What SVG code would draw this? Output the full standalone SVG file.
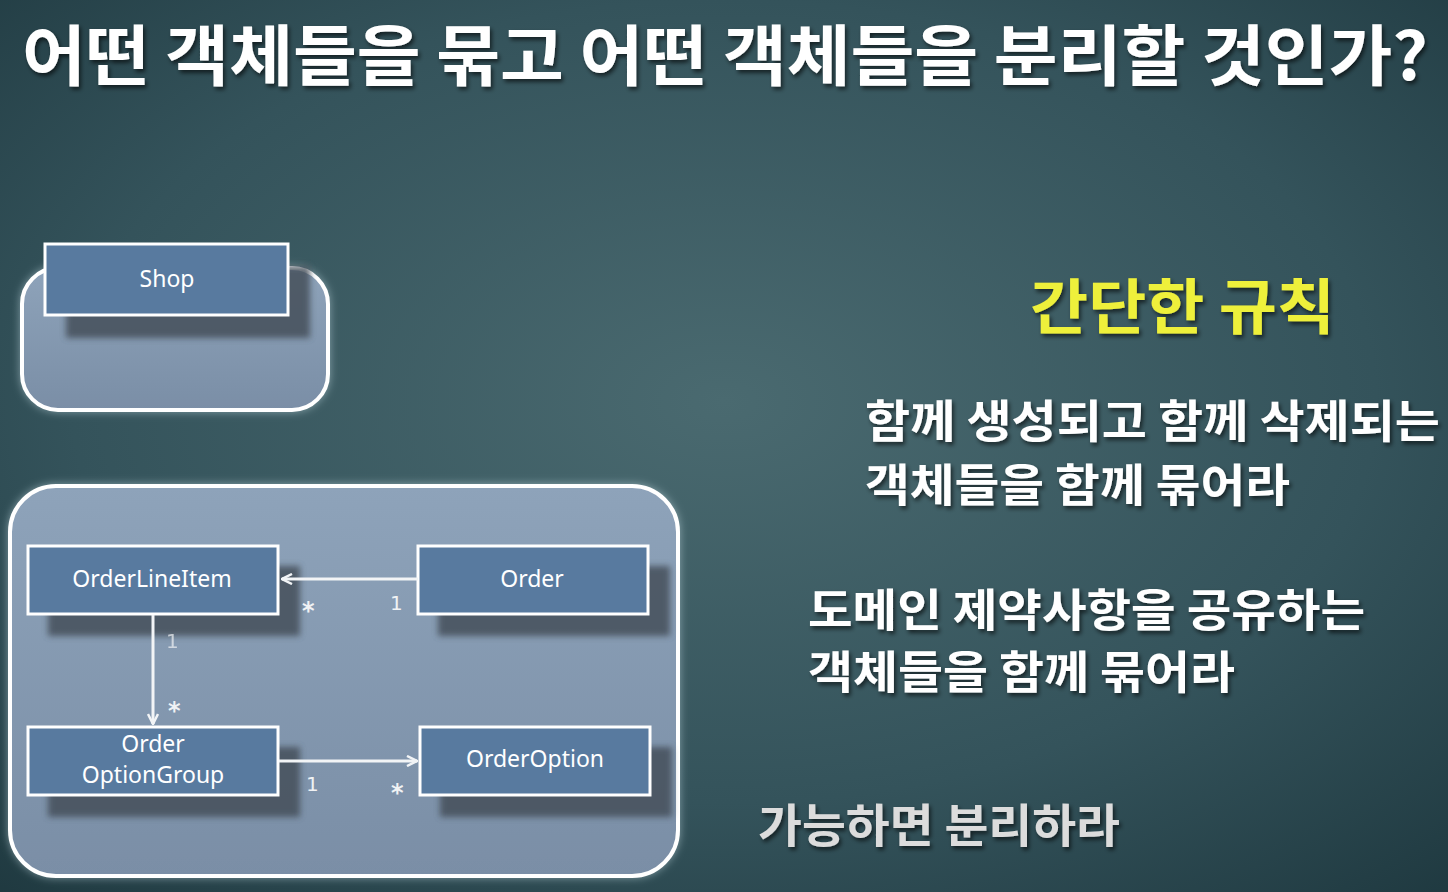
<svg xmlns="http://www.w3.org/2000/svg" width="1448" height="892" viewBox="0 0 1448 892">
<defs>
<radialGradient id="bg" cx="0.5" cy="0.45" r="0.75">
<stop offset="0" stop-color="#4a6a70"/>
<stop offset="0.6" stop-color="#34535b"/>
<stop offset="1" stop-color="#1f3940"/>
</radialGradient>
<linearGradient id="panel" x1="0" y1="0" x2="0" y2="1">
<stop offset="0" stop-color="#8ea3ba"/>
<stop offset="1" stop-color="#7a8ea6"/>
</linearGradient>
<filter id="glow" x="-10%" y="-10%" width="120%" height="120%">
<feGaussianBlur in="SourceAlpha" stdDeviation="4" result="b"/>
<feFlood flood-color="#cfe6ee" flood-opacity="0.5"/>
<feComposite in2="b" operator="in" result="g"/>
<feMerge><feMergeNode in="g"/><feMergeNode in="SourceGraphic"/></feMerge>
</filter>
<filter id="blur" x="-20%" y="-20%" width="140%" height="140%">
<feGaussianBlur stdDeviation="3"/>
</filter>
<filter id="tshadow" x="-5%" y="-20%" width="110%" height="140%">
<feDropShadow dx="2" dy="3" stdDeviation="2" flood-color="#000" flood-opacity="0.6"/>
</filter>
<marker id="arr" viewBox="0 0 12 12" refX="11" refY="6" markerWidth="12" markerHeight="12" markerUnits="userSpaceOnUse" orient="auto">
<path d="M1,1 L11,6 L1,11" fill="none" stroke="#f2f4f6" stroke-width="2.5"/>
</marker>
</defs>
<style>
.box{fill:#587a9f;stroke:#ffffff;stroke-width:3}
.shadow{fill:#454f5a;opacity:0.85}
.lbl{font-family:"Noto Sans","Noto Sans CJK KR",sans-serif;font-size:23px;fill:#ffffff;text-anchor:middle}
.mult{font-family:"DejaVu Sans",sans-serif;font-size:20px;fill:#f0f2f4}
.star{font-family:"DejaVu Sans",sans-serif;font-size:24px;font-weight:700;fill:#f0f2f4}
.conn{stroke:#f2f4f6;stroke-width:3;fill:none}
.kr{font-family:"Noto Sans CJK KR","Noto Sans",sans-serif;font-weight:700;fill:#ffffff}
.panel{stroke:#ffffff;stroke-width:4}
</style>
<rect width="1448" height="892" fill="url(#bg)"/>

<text class="kr" x="22" y="80" font-size="66" textLength="1406" lengthAdjust="spacingAndGlyphs" filter="url(#tshadow)">어떤 객체들을 묶고 어떤 객체들을 분리할 것인가?</text>

<g id="shop-aggregate">
<rect class="panel" x="22" y="268" width="306" height="142" rx="36" fill="url(#panel)" filter="url(#glow)"/>
</g>
<g id="shop">
<rect class="shadow" x="66" y="266" width="244" height="72" filter="url(#blur)"/>
<rect class="box" x="45" y="244" width="243" height="71"/>
<text class="lbl" x="167" y="287">Shop</text>
</g>

<g id="order-aggregate">
<rect class="panel" x="10" y="486" width="668" height="390" rx="46" fill="url(#panel)" filter="url(#glow)"/>
</g>
<g id="orderlineitem">
<rect class="shadow" x="48" y="566" width="252" height="70" filter="url(#blur)"/>
<rect class="box" x="28" y="546" width="250" height="68"/>
<text class="lbl" x="152" y="587">OrderLineItem</text>
</g>
<g id="order">
<rect class="shadow" x="438" y="566" width="232" height="70" filter="url(#blur)"/>
<rect class="box" x="418" y="546" width="230" height="68"/>
<text class="lbl" x="532" y="587">Order</text>
</g>
<g id="orderoptiongroup">
<rect class="shadow" x="48" y="747" width="252" height="70" filter="url(#blur)"/>
<rect class="box" x="28" y="727" width="250" height="68"/>
<text class="lbl" x="153" y="752">Order</text>
<text class="lbl" x="153" y="783">OptionGroup</text>
</g>
<g id="orderoption">
<rect class="shadow" x="440" y="747" width="232" height="70" filter="url(#blur)"/>
<rect class="box" x="420" y="727" width="230" height="68"/>
<text class="lbl" x="535" y="767">OrderOption</text>
</g>

<g id="connectors">
<line class="conn" x1="418" y1="579" x2="282" y2="579" marker-end="url(#arr)"/>
<line class="conn" x1="153" y1="615" x2="153" y2="724" marker-end="url(#arr)"/>
<line class="conn" x1="279" y1="761" x2="417" y2="761" marker-end="url(#arr)"/>
<text class="star" x="302" y="619">*</text>
<text class="mult" x="390" y="610">1</text>
<text class="mult" x="166" y="648" opacity="0.7">1</text>
<text class="star" x="168" y="719">*</text>
<text class="mult" x="306" y="791">1</text>
<text class="star" x="391" y="801">*</text>
</g>

<g id="rules">
<text class="kr" x="1030" y="329" font-size="60" style="fill:#eef03a" textLength="305" lengthAdjust="spacingAndGlyphs" filter="url(#tshadow)">간단한 규칙</text>
<text class="kr" x="865" y="438" font-size="45" textLength="575" lengthAdjust="spacingAndGlyphs" filter="url(#tshadow)">함께 생성되고 함께 삭제되는</text>
<text class="kr" x="865" y="502" font-size="45" textLength="425" lengthAdjust="spacingAndGlyphs" filter="url(#tshadow)">객체들을 함께 묶어라</text>
<text class="kr" x="808" y="627" font-size="45" textLength="557" lengthAdjust="spacingAndGlyphs" filter="url(#tshadow)">도메인 제약사항을 공유하는</text>
<text class="kr" x="808" y="689" font-size="45" textLength="427" lengthAdjust="spacingAndGlyphs" filter="url(#tshadow)">객체들을 함께 묶어라</text>
<text class="kr" x="758" y="842" font-size="46" style="fill:#dcdcdc" textLength="362" lengthAdjust="spacingAndGlyphs" filter="url(#tshadow)">가능하면 분리하라</text>
</g>
</svg>
